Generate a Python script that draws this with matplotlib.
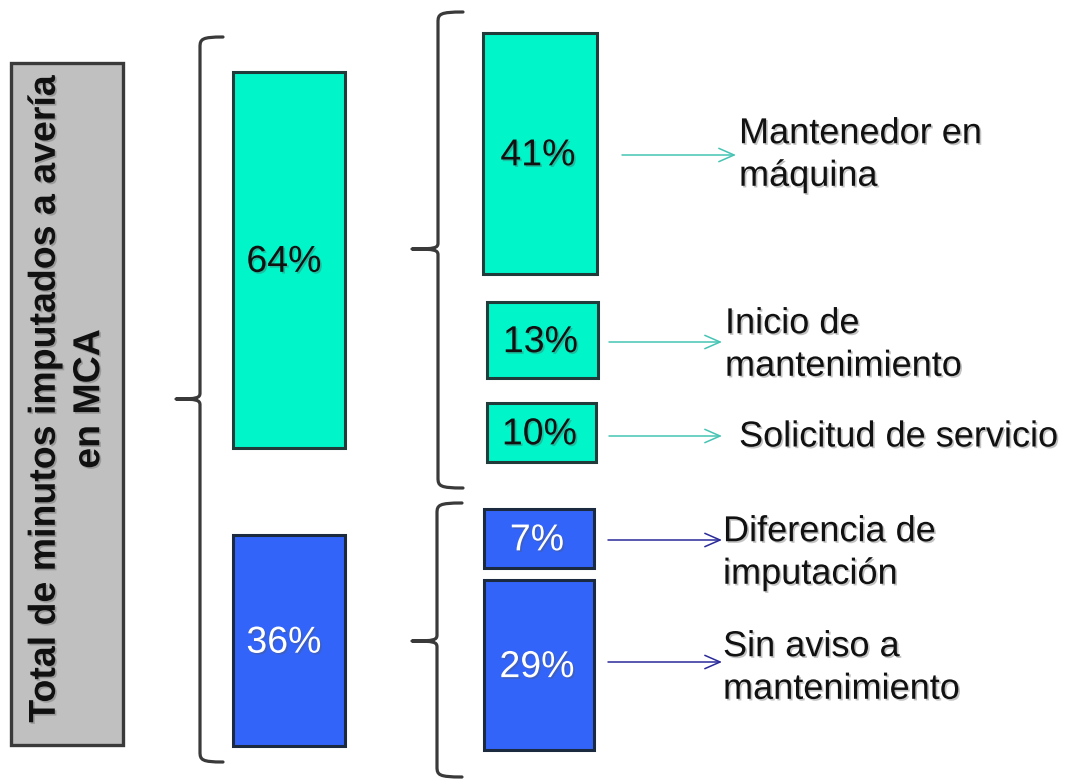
import matplotlib
matplotlib.use("Agg")
import matplotlib.pyplot as plt
from matplotlib.path import Path
from matplotlib.patches import PathPatch, Rectangle
import matplotlib.patheffects as pe

plt.rcParams['font.family'] = ['Liberation Sans', 'DejaVu Sans']

# ---- data ----
title_text = "Total de minutos imputados a avería\nen MCA"
group_values = [64, 36]
detail_values = [41, 13, 10, 7, 29]
detail_group = [0, 0, 0, 1, 1]
detail_labels = [
    "Mantenedor en\nmáquina",
    "Inicio de\nmantenimiento",
    "Solicitud de servicio",
    "Diferencia de\nimputación",
    "Sin aviso a\nmantenimiento",
]

# ---- styling / layout (pixel canvas, y grows downward) ----
PX_PER_PCT = 5.87
MIN_PCT_DRAWN = 10          # small boxes keep room for their label
fill_colors = ['#00F5C8', '#3264FA']
edge_colors = ['#213a3a', '#1c2a40']
text_colors = ['#111111', '#ffffff']
arrow_colors = ['#45c4b4', '#2a2a9a']

group_x, group_w = 289, 112
group_tops = [72, 535]

detail_x = [540, 542.5, 541.5, 539, 539]
detail_w = [114, 111, 109, 110, 110]
detail_tops = [33, 302, 403, 509, 580]

arrow_y = [155, 342, 436, 540, 662]
arrow_x0 = [622, 609, 609, 608, 608]
arrow_x1 = [736, 722, 722, 722, 722]
label_x = [739, 725, 739, 723, 723]
label_y = [155, 345, 437, 553, 668]

fig = plt.figure(figsize=(10.75, 7.8), dpi=100)
ax = fig.add_axes([0, 0, 1, 1])
ax.set_xlim(0, 1075)
ax.set_ylim(780, 0)
ax.axis('off')

shadow = [pe.withSimplePatchShadow(offset=(1.2, -1.2), shadow_rgbFace='#555555', alpha=0.35)]

# side title box
ax.add_patch(Rectangle((11, 63), 112, 682, facecolor='#c0c0c0',
                       edgecolor='#3a3a3a', linewidth=2.4, zorder=1))
ax.text(67, 399, title_text, rotation=90, ha='center', va='center',
        multialignment='center', fontsize=27, fontweight='bold',
        color='#111111', linespacing=1.3, path_effects=shadow, zorder=3)


def brace(x, top, bot, tip, tip_x, hook_x, r=10, r2=6):
    verts = [
        (hook_x, top), (x + 2, top), (x, top + 2), (x, top + r),
        (x, tip - r2),
        (x, tip - 1), (x - 3, tip), (tip_x, tip),
        (x - 3, tip), (x, tip + 1), (x, tip + r2),
        (x, bot - r),
        (x, bot - 2), (x + 2, bot), (hook_x, bot),
    ]
    codes = [Path.MOVETO, Path.CURVE4, Path.CURVE4, Path.CURVE4,
             Path.LINETO,
             Path.CURVE4, Path.CURVE4, Path.CURVE4,
             Path.CURVE4, Path.CURVE4, Path.CURVE4,
             Path.LINETO,
             Path.CURVE4, Path.CURVE4, Path.CURVE4]
    ax.add_patch(PathPatch(Path(verts, codes), fill=False, edgecolor='#3a3a3a',
                           linewidth=2.3, capstyle='round', joinstyle='round',
                           zorder=2))


brace(200, 37, 762, 399, 176, 223)
brace(438, 12, 488, 249, 412, 463)
brace(437, 503, 777, 641, 412, 462)

# group boxes
g_heights = [v * PX_PER_PCT for v in group_values]
ax.bar([group_x] * 2, g_heights, bottom=group_tops, width=group_w,
       color=fill_colors, edgecolor=edge_colors, linewidth=2.2, zorder=2)
for i, v in enumerate(group_values):
    ax.text(group_x - 5, group_tops[i] + g_heights[i] / 2 + 2, f"{v}%",
            ha='center', va='center', fontsize=27, color=text_colors[i],
            path_effects=shadow, zorder=3)

# detail boxes, arrows and labels
d_heights = [max(v, MIN_PCT_DRAWN) * PX_PER_PCT for v in detail_values]
ax.bar(detail_x, d_heights, bottom=detail_tops, width=detail_w,
       color=[fill_colors[g] for g in detail_group],
       edgecolor=[edge_colors[g] for g in detail_group],
       linewidth=2.2, zorder=2)
for i, v in enumerate(detail_values):
    g = detail_group[i]
    ax.text(detail_x[i] - 2, detail_tops[i] + d_heights[i] / 2 + 2, f"{v}%",
            ha='center', va='center', fontsize=27, color=text_colors[g],
            path_effects=shadow, zorder=3)
    ax.annotate('', xy=(arrow_x1[i], arrow_y[i]), xytext=(arrow_x0[i], arrow_y[i]),
                arrowprops=dict(arrowstyle='->,head_length=0.55,head_width=0.24',
                                color=arrow_colors[g], lw=1.1,
                                shrinkA=0, shrinkB=0, mutation_scale=20),
                zorder=2)
    ax.text(label_x[i], label_y[i], detail_labels[i], ha='left', va='center',
            fontsize=26, color='#111111', linespacing=1.28,
            path_effects=shadow, zorder=3)

fig.savefig('out.png', dpi=100)
